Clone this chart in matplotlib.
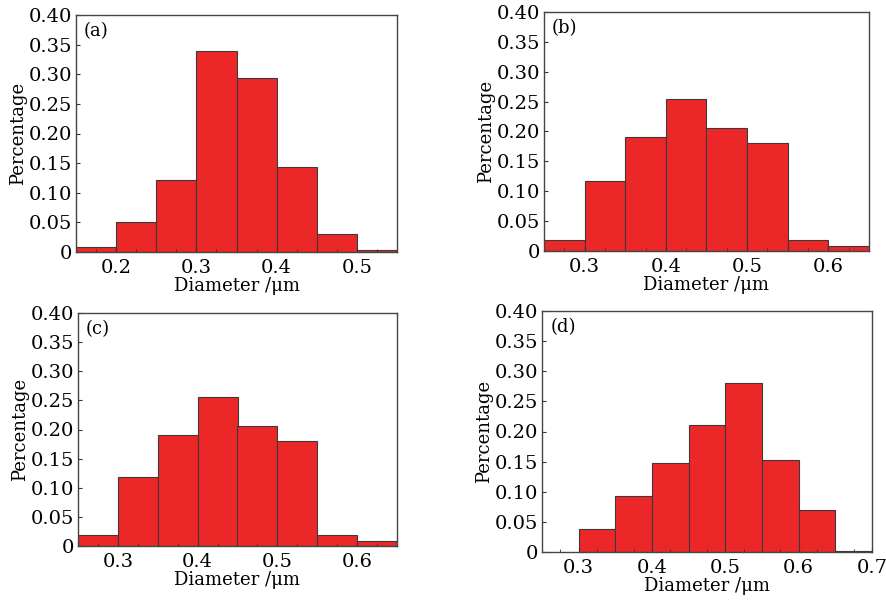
import matplotlib.pyplot as plt
from matplotlib.ticker import MultipleLocator, FuncFormatter

# bin left edges (um) and fractions per panel
edges_a = [0.15, 0.20, 0.25, 0.30, 0.35, 0.40, 0.45, 0.50]
pct_a = [0.008, 0.051, 0.121, 0.340, 0.294, 0.144, 0.031, 0.003]

edges_b = [0.25, 0.30, 0.35, 0.40, 0.45, 0.50, 0.55, 0.60]
pct_b = [0.019, 0.117, 0.191, 0.255, 0.206, 0.181, 0.019, 0.009]

edges_c = [0.25, 0.30, 0.35, 0.40, 0.45, 0.50, 0.55, 0.60]
pct_c = [0.019, 0.118, 0.191, 0.255, 0.206, 0.181, 0.019, 0.009]

edges_d = [0.30, 0.35, 0.40, 0.45, 0.50, 0.55, 0.60, 0.65]
pct_d = [0.038, 0.093, 0.148, 0.210, 0.280, 0.152, 0.070, 0.002]

bin_w = 0.05

plt.rcParams['font.family'] = ['DejaVu Serif']
plt.rcParams['mathtext.fontset'] = 'dejavuserif'

W, H = 887, 604
fig = plt.figure(figsize=(W / 100, H / 100), dpi=100)

# pixel boxes: left, top, right, bottom
panels = [
    ('(a)', edges_a, pct_a, (0.15, 0.55), (76, 15, 397, 252)),
    ('(b)', edges_b, pct_b, (0.25, 0.65), (544, 12, 869, 251)),
    ('(c)', edges_c, pct_c, (0.25, 0.65), (78, 313, 397, 546)),
    ('(d)', edges_d, pct_d, (0.25, 0.70), (542, 311, 872, 552)),
]


def yfmt(v, pos):
    if abs(v) < 1e-9:
        return '0'
    return '%.2f' % v


for tag, edges, pct, xlim, (l, t, r, b) in panels:
    ax = fig.add_axes([l / W, 1 - b / H, (r - l) / W, (b - t) / H])
    ax.bar(edges, pct, width=bin_w, align='edge', color='#ec2727',
           edgecolor='#3a3a3a', linewidth=0.8)
    ax.set_xlim(*xlim)
    ax.set_ylim(0, 0.40)
    ax.xaxis.set_major_locator(MultipleLocator(0.1))
    ax.xaxis.set_minor_locator(MultipleLocator(0.025))
    ax.yaxis.set_major_locator(MultipleLocator(0.05))
    ax.yaxis.set_major_formatter(FuncFormatter(yfmt))
    ax.xaxis.set_major_formatter(FuncFormatter(lambda v, p: '%.1f' % v))
    ax.tick_params(axis='both', which='both', direction='in', labelsize=14,
                   color='#333333')
    ax.tick_params(axis='x', which='major', length=3, pad=5)
    ax.tick_params(axis='y', which='major', length=3, pad=3)
    ax.tick_params(axis='both', which='minor', length=2)
    ax.tick_params(axis='y', which='minor', left=False)
    for s in ax.spines.values():
        s.set_color('#444444')
        s.set_linewidth(1.0)
    ax.set_xlabel('Diameter /μm', fontsize=13, labelpad=0)
    ax.set_ylabel('Percentage', fontsize=13, labelpad=1)
    ax.text(0.025, 0.97, tag, transform=ax.transAxes, fontsize=13,
            va='top', ha='left')

fig.savefig('out.png', dpi=100)
